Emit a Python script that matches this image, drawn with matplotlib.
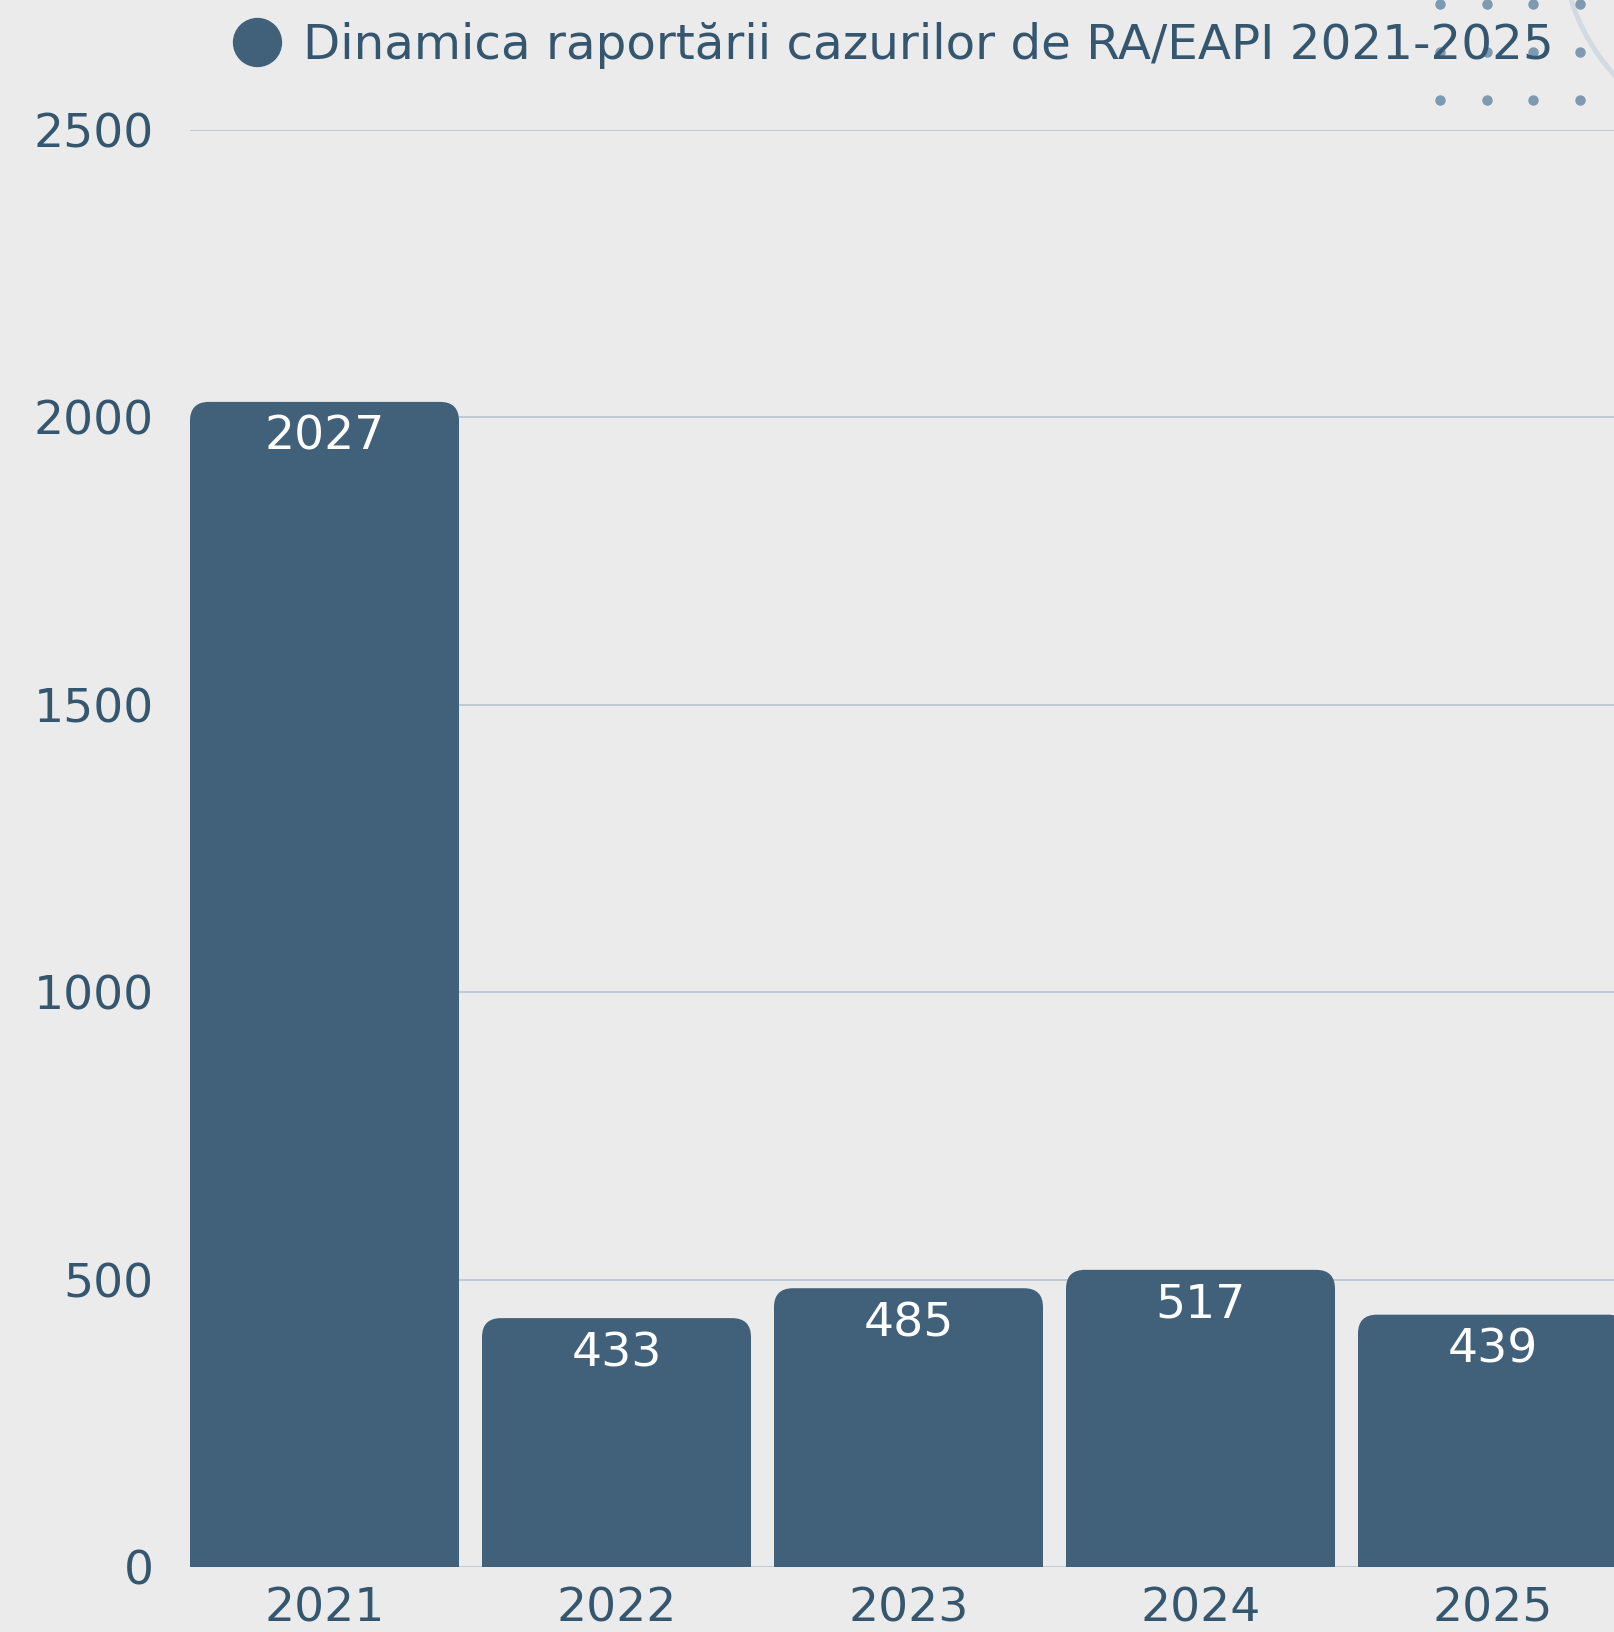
#!/usr/bin/python3
# -*- coding: UTF-8 -*-

import matplotlib
matplotlib.use('Agg')
import matplotlib.pyplot as plt
from matplotlib.patches import FancyBboxPatch, Rectangle, Ellipse
from matplotlib.lines import Line2D

# date
years = ['2021', '2022', '2023', '2024', '2025']
cases = [2027, 433, 485, 517, 439]
yticks = [0, 500, 1000, 1500, 2000, 2500]
title = 'Dinamica raportării cazurilor de RA/EAPI 2021-2025'

bar_color = '#41617a'
text_color = '#35566f'
grid_color = '#b9c6d1'
bg_color = '#ebebeb'

W, H = 1614, 1632
fig = plt.figure(figsize=(W / 100, H / 100), dpi=100)
fig.patch.set_facecolor(bg_color)

ax = fig.add_axes([190 / W, 65 / H, (W - 190) / W, 1437 / H])
ax.set_facecolor('none')
for s in ax.spines.values():
    s.set_visible(False)

bw = 269 / 292
bars = ax.bar(range(len(years)), cases, width=bw, color=bar_color, zorder=3)
ax.set_xlim(-bw / 2, -bw / 2 + (W - 190) / 292)
ax.set_ylim(0, 2500)

# colturi rotunjite sus
rx = 19 / 292            # 19 px in unitati x
ry = 19 * 2500 / 1437    # 19 px in unitati y
for b in bars:
    x, y, w, h = b.get_x(), b.get_y(), b.get_width(), b.get_height()
    b.set_visible(False)
    ax.add_patch(FancyBboxPatch((x, y), w, h,
                                boxstyle='round,pad=0,rounding_size=%f' % rx,
                                mutation_aspect=ry / rx,
                                fc=bar_color, ec='none', zorder=3))
    ax.add_patch(Rectangle((x, y), w, h - ry, fc=bar_color, ec='none', zorder=3))
    ax.annotate(str(int(h)), (x + w / 2, h), xytext=(0, -34.5),
                textcoords='offset points', ha='center', va='baseline',
                color='white', fontsize=34, zorder=4)

ax.set_yticks(yticks)
ax.set_xticks(range(len(years)))
ax.set_xticklabels(years)
ax.grid(axis='y', color=grid_color, linewidth=1.3, zorder=0)
ax.tick_params(axis='y', length=0, pad=26, labelsize=34, labelcolor=text_color)
ax.tick_params(axis='x', length=0, pad=14, labelsize=34, labelcolor=text_color)

# legenda
fig.add_artist(Line2D([257 / W], [1 - 42 / H], marker='o', ms=34.5, color=bar_color,
                      linestyle='none', transform=fig.transFigure))
fig.text(303 / W, 1 - 59 / H, title, color=text_color, fontsize=34.8,
         ha='left', va='baseline')

# decor colt dreapta sus
fig.add_artist(Ellipse((1762 / W, 1 + 60 / H), 400 / W, 400 / H, fill=False,
                       ec='#d2dbe3', lw=3.6, transform=fig.transFigure, zorder=0))
for yy in [4, 52, 100]:
    for xx in [1440, 1487, 1533, 1580]:
        fig.add_artist(Line2D([xx / W], [1 - yy / H], marker='o', ms=6.5,
                              color='#7d9ab1', linestyle='none',
                              transform=fig.transFigure, zorder=0))

plt.savefig('out.png', dpi=100, facecolor=bg_color)
